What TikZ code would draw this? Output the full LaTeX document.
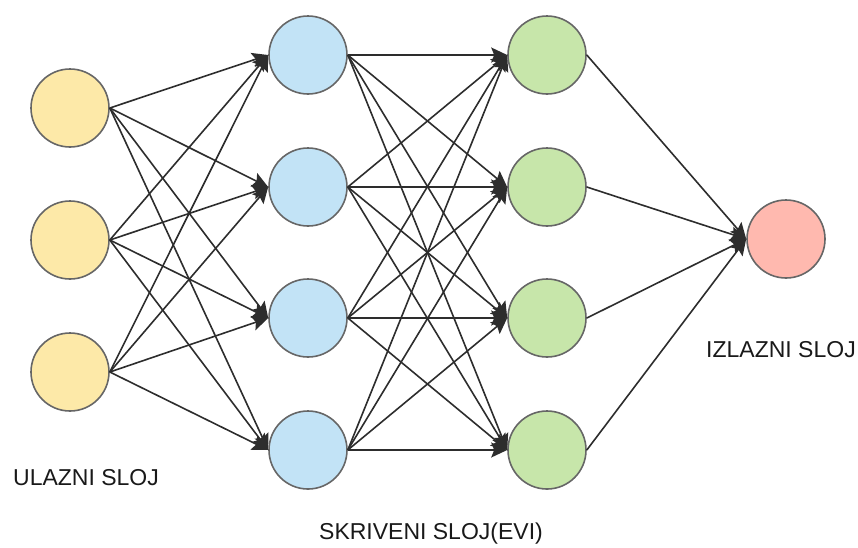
\documentclass[tikz,border=0pt]{standalone}
\usepackage{fontspec}
\setmainfont{Liberation Sans}
\usetikzlibrary{arrows.meta}
\definecolor{cin}{RGB}{253,233,168}
\definecolor{chid}{RGB}{194,227,246}
\definecolor{cgrn}{RGB}{199,230,170}
\definecolor{cout}{RGB}{255,185,175}
\definecolor{cline}{RGB}{45,45,45}
\definecolor{cbord}{RGB}{102,102,102}
\tikzset{
  neuron/.style={circle, draw=cbord, line width=1.6pt, minimum size=78pt, inner sep=0pt},
  conn/.style={draw=cline, line width=1.6pt, -{Stealth[length=16pt,width=15pt,inset=3pt]}},
  lbl/.style={font=\fontsize{23}{26}\selectfont, text=black!90}
}
\begin{document}
\begin{tikzpicture}[x=1pt,y=-1pt]
\useasboundingbox (0,0) rectangle (858,547);
\node[neuron, fill=cin] (i1) at (70,108) {};
\node[neuron, fill=cin] (i2) at (70,240) {};
\node[neuron, fill=cin] (i3) at (70,372) {};
\node[neuron, fill=chid] (h1) at (308,55) {};
\node[neuron, fill=chid] (h2) at (308,187) {};
\node[neuron, fill=chid] (h3) at (308,318) {};
\node[neuron, fill=chid] (h4) at (308,450) {};
\node[neuron, fill=cgrn] (g1) at (547,55) {};
\node[neuron, fill=cgrn] (g2) at (547,187) {};
\node[neuron, fill=cgrn] (g3) at (547,318) {};
\node[neuron, fill=cgrn] (g4) at (547,450) {};
\node[neuron, fill=cout] (o1) at (786,239) {};
\foreach \a in {i1,i2,i3}
  \foreach \b in {h1,h2,h3,h4}
    \draw[conn] (\a.east) -- (\b.west);
\foreach \a in {h1,h2,h3,h4}
  \foreach \b in {g1,g2,g3,g4}
    \draw[conn] (\a.east) -- (\b.west);
\foreach \a in {g1,g2,g3,g4}
  \draw[conn] (\a.east) -- (o1.west);
\node[lbl] (l1) at (86,478) {ULAZNI SLOJ};
\node[lbl] (l2) at (781,350) {IZLAZNI SLOJ};
\node[lbl] (l3) at (431,534) {SKRIVENI SLOJ(EVI)};
\end{tikzpicture}
\end{document}
